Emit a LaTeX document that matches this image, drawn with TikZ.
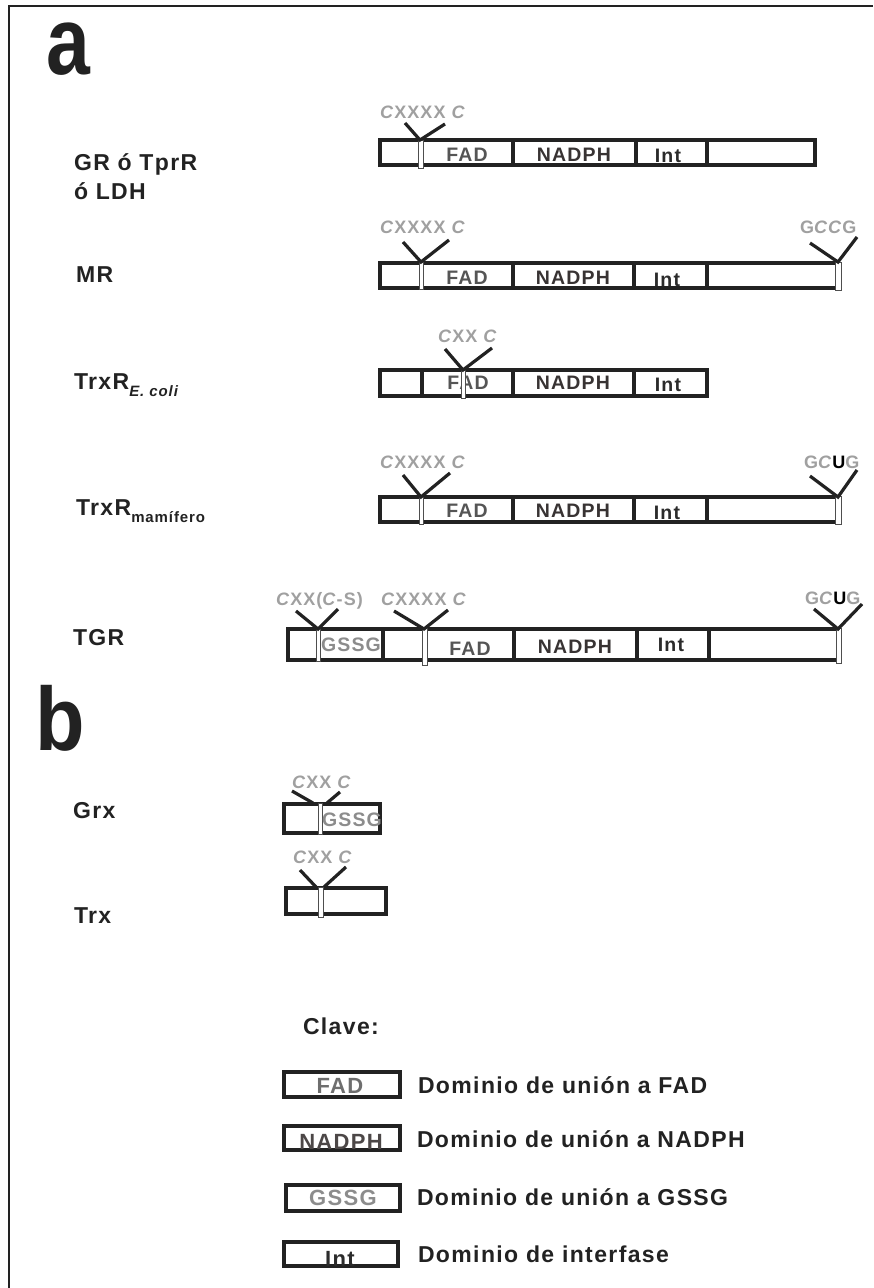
\documentclass[tikz,border=0pt]{standalone}
\usepackage{fontspec}
\setmainfont{Liberation Sans}[LetterSpace=6]
\definecolor{ink}{HTML}{222222}
\definecolor{motifgray}{HTML}{A0A0A0}
\definecolor{fadc}{HTML}{555555}
\definecolor{nadc}{HTML}{383333}
\definecolor{intc}{HTML}{2B2B2B}
\definecolor{gssc}{HTML}{8C8C8C}
\newcommand\domfont{\fontsize{19.5}{20}\selectfont\bfseries}
\newcommand\keydomfont{\fontsize{22}{22}\selectfont\bfseries}
\newcommand\motiffont{\fontsize{18}{19}\selectfont\bfseries}
\newcommand\rowfont{\fontsize{23}{25}\selectfont\bfseries}
\newcommand\keyfont{\fontsize{23}{25}\selectfont\bfseries}
\begin{document}
\begin{tikzpicture}[x=1pt,y=-1pt,
  every node/.style={inner sep=0pt, outer sep=0pt},
  bar/.style={draw=ink, line width=3.3pt},
  divider/.style={draw=ink, line width=3.3pt},
  marker/.style={draw=ink!80, fill=white, line width=0.9pt},
  arm/.style={draw=ink, line width=3.2pt},
  motif/.style={text=motifgray, font=\motiffont, anchor=base west},
  dom/.style={font=\domfont, anchor=base, yshift=1.3pt},
  keydom/.style={font=\keydomfont, anchor=base},
  rowlab/.style={text=ink, font=\rowfont, anchor=base west},
  keytext/.style={text=ink, font=\keyfont, anchor=base west},
  panel/.style={text=ink, anchor=base west}]

\useasboundingbox (0,0) rectangle (873,1288);
\fill[white] (0,0) rectangle (873,1288);

% outer frame (left and top edges)
\draw[ink, line width=2.5pt] (9,1288) -- (9,6) -- (873,6);

% panel letters
\node[panel, font=\fontsize{96}{96}\selectfont\bfseries] (pa) at (46,74) {\scalebox{0.82}[1]{a}};
\node[panel, font=\fontsize{90}{90}\selectfont\bfseries] (pb) at (35,750) {\scalebox{0.9}[1]{b}};

% ---------- row labels ----------
\node[rowlab] (lgr) at (74,170) {GR ó TprR};
\node[rowlab] (lldh) at (74,199) {ó LDH};
\node[rowlab] (lmr) at (76,282) {MR};
\node[rowlab] (lecoli) at (74,389) {TrxR\raisebox{-7pt}{\fontsize{15}{15}\selectfont\itshape E. coli}};
\node[rowlab] (lmam) at (76,515) {TrxR\raisebox{-7pt}{\fontsize{15}{15}\selectfont mamífero}};
\node[rowlab] (ltgr) at (73,645) {TGR};
\node[rowlab] (lgrx) at (73,818) {Grx};
\node[rowlab] (ltrx) at (74,923) {Trx};

% ---------- GR / TprR / LDH ----------
\draw[bar] (380,140) rectangle (815,165);
\draw[divider] (513,140) -- (513,165);
\draw[divider] (636,140) -- (636,165);
\draw[divider] (707,140) -- (707,165);
\draw[marker] (418,140) rectangle (423,168);
\node[dom, text=fadc] (f1) at (467,163) {FAD};
\node[dom, text=nadc] (n1) at (574,163) {NADPH};
\node[dom, text=intc] (i1) at (668,164) {Int};
\node[motif] (m1) at (380,118) {\textit{C}XXXX \textit{C}};
\coordinate (a1l) at (405,123); \coordinate (a1) at (420,140); \coordinate (a1r) at (445,124);
\draw[arm] (a1l) -- (a1) -- (a1r);

% ---------- MR ----------
\draw[bar] (380,263) rectangle (837,288);
\draw[divider] (513,263) -- (513,288);
\draw[divider] (634,263) -- (634,288);
\draw[divider] (707,263) -- (707,288);
\draw[marker] (419,262) rectangle (423,289);
\draw[marker] (835,262) rectangle (841,290);
\node[dom, text=fadc] (f2) at (467,286) {FAD};
\node[dom, text=nadc] (n2) at (573,286) {NADPH};
\node[dom, text=intc] (i2) at (667,288) {Int};
\node[motif] (m2) at (380,233) {\textit{C}XXXX \textit{C}};
\node[motif] (m2r) at (800,233) {G\textit{CC}G};
\coordinate (a2l) at (403,242); \coordinate (a2) at (421,262); \coordinate (a2r) at (449,240);
\draw[arm] (a2l) -- (a2) -- (a2r);
\coordinate (b2l) at (810,243); \coordinate (b2) at (838,262); \coordinate (b2r) at (857,237);
\draw[arm] (b2l) -- (b2) -- (b2r);

% ---------- TrxR E. coli ----------
\draw[bar] (380,370) rectangle (707,396);
\draw[divider] (422,370) -- (422,396);
\draw[divider] (513,370) -- (513,396);
\draw[divider] (634,370) -- (634,396);
\node[dom, text=fadc] (f3) at (468,391) {FAD};
\node[dom, text=nadc] (n3) at (573,391) {NADPH};
\node[dom, text=intc] (i3) at (668,393) {Int};
\draw[marker] (461,370) rectangle (465,398);
\node[motif] (m3) at (438,342) {\textit{C}XX \textit{C}};
\coordinate (a3l) at (445,349); \coordinate (a3) at (463,370); \coordinate (a3r) at (492,348);
\draw[arm] (a3l) -- (a3) -- (a3r);

% ---------- TrxR mammal ----------
\draw[bar] (380,497) rectangle (837,522);
\draw[divider] (513,497) -- (513,522);
\draw[divider] (634,497) -- (634,522);
\draw[divider] (707,497) -- (707,522);
\draw[marker] (419,496) rectangle (423,524);
\draw[marker] (835,496) rectangle (841,524);
\node[dom, text=fadc] (f4) at (467,519) {FAD};
\node[dom, text=nadc] (n4) at (573,519) {NADPH};
\node[dom, text=intc] (i4) at (667,521) {Int};
\node[motif] (m4) at (380,468) {\textit{C}XXXX \textit{C}};
\node[motif] (m4r) at (804,468) {G\textit{C}\textcolor{black}{U}G};
\coordinate (a4l) at (403,475); \coordinate (a4) at (421,497); \coordinate (a4r) at (450,473);
\draw[arm] (a4l) -- (a4) -- (a4r);
\coordinate (b4l) at (810,476); \coordinate (b4) at (838,497); \coordinate (b4r) at (857,470);
\draw[arm] (b4l) -- (b4) -- (b4r);

% ---------- TGR ----------
\draw[bar] (288,629) rectangle (838,660);
\draw[divider] (383,629) -- (383,660);
\draw[divider] (514,629) -- (514,660);
\draw[divider] (637,629) -- (637,660);
\draw[divider] (709,629) -- (709,660);
\draw[marker] (316,628) rectangle (320,661);
\draw[marker] (422,628) rectangle (427,665);
\draw[marker] (836,628) rectangle (841,663);
\node[dom, text=gssc] (g5) at (351,653) {GSSG};
\node[dom, text=fadc] (f5) at (470,657) {FAD};
\node[dom, text=nadc] (n5) at (575,655) {NADPH};
\node[dom, text=intc] (i5) at (671,653) {Int};
\node[motif] (m5a) at (276,605) {\textit{C}XX(\textit{C}-S)};
\node[motif] (m5b) at (381,605) {\textit{C}XXXX \textit{C}};
\node[motif] (m5r) at (805,604) {G\textit{C}\textcolor{black}{U}G};
\coordinate (a5l) at (296,611); \coordinate (a5) at (318,629); \coordinate (a5r) at (338,609);
\draw[arm] (a5l) -- (a5) -- (a5r);
\coordinate (c5l) at (394,611); \coordinate (c5) at (424,629); \coordinate (c5r) at (448,610);
\draw[arm] (c5l) -- (c5) -- (c5r);
\coordinate (b5l) at (814,609); \coordinate (b5) at (838,629); \coordinate (b5r) at (862,604);
\draw[arm] (b5l) -- (b5) -- (b5r);

% ---------- Grx ----------
\draw[bar] (284,804) rectangle (380,833);
\draw[marker] (318,803) rectangle (322,834);
\node[dom, text=gssc] (g6) at (352,828) {GSSG};
\node[motif] (m6) at (292,788) {\textit{C}XX \textit{C}};
\coordinate (a6l) at (292,791); \coordinate (a6) at (313,803);
\coordinate (a6m) at (327,803); \coordinate (a6r) at (340,792);
\draw[arm] (a6l) -- (a6);
\draw[arm] (a6m) -- (a6r);

% ---------- Trx ----------
\draw[bar] (286,888) rectangle (386,914);
\draw[marker] (318,887) rectangle (323,917);
\node[motif] (m7) at (293,863) {\textit{C}XX \textit{C}};
\coordinate (a7l) at (300,870); \coordinate (a7) at (316,887);
\coordinate (a7m) at (324,887); \coordinate (a7r) at (346,867);
\draw[arm] (a7l) -- (a7);
\draw[arm] (a7m) -- (a7r);

% ---------- key ----------
\node[keytext] (clave) at (303,1034) {Clave:};

\draw[bar] (284,1072) rectangle (400,1097);
\node[keydom, text=fadc!85] (kf) at (340,1093) {FAD};
\node[keytext] (tf) at (418,1093) {Dominio de unión a FAD};

\draw[bar] (284,1126) rectangle (400,1150);
\node[keydom, text=nadc!90] (kn) at (341,1149) {NADPH};
\node[keytext] (tn) at (417,1147) {Dominio de unión a NADPH};

\draw[bar] (286,1185) rectangle (400,1211);
\node[keydom, text=gssc] (kg) at (343,1205) {GSSG};
\node[keytext] (tg) at (417,1205) {Dominio de unión a GSSG};

\draw[bar] (284,1242) rectangle (398,1266);
\node[keydom, text=intc] (ki) at (340,1266) {Int};
\node[keytext] (ti) at (418,1262) {Dominio de interfase};

\end{tikzpicture}
\end{document}
